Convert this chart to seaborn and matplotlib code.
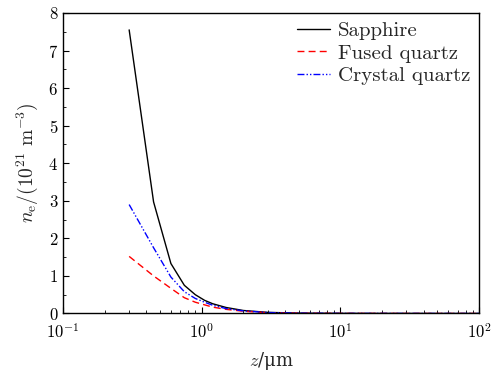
import matplotlib
matplotlib.use("Agg")
import matplotlib.pyplot as plt
import numpy as np
import pandas as pd
import seaborn as sns
from matplotlib.ticker import MultipleLocator, LogLocator, NullFormatter

# depth z (um) and electron density (1e21 m^-3)
z = [0.3, 0.45, 0.6, 0.75, 0.9, 1.05, 1.2, 1.5, 2.0, 3.0, 5.0, 10.0, 20.0, 50.0, 100.0]
sapphire = [7.55, 2.97, 1.33, 0.75, 0.50, 0.35, 0.26, 0.16, 0.08, 0.03, 0.01, 0.004, 0.002, 0.001, 0.001]
fused = [1.52, 1.00, 0.67, 0.42, 0.30, 0.23, 0.17, 0.11, 0.06, 0.02, 0.008, 0.003, 0.002, 0.001, 0.001]
crystal = [2.90, 1.75, 0.97, 0.58, 0.40, 0.30, 0.22, 0.13, 0.07, 0.025, 0.009, 0.003, 0.002, 0.001, 0.001]

names = ["Sapphire", "Fused quartz", "Crystal quartz"]

df = pd.concat([
    pd.DataFrame({"z": z, "ne": sapphire, "material": names[0]}),
    pd.DataFrame({"z": z, "ne": fused, "material": names[1]}),
    pd.DataFrame({"z": z, "ne": crystal, "material": names[2]}),
])

sns.set_style("ticks")
plt.rcParams["font.family"] = ["cmr10", "DejaVu Serif"]
plt.rcParams["mathtext.fontset"] = "cm"
plt.rcParams["axes.formatter.use_mathtext"] = True
plt.rcParams["axes.unicode_minus"] = False

fig = plt.figure(figsize=(5.0, 3.71), dpi=100)
ax = fig.add_axes([0.126, 0.155, 0.832, 0.81])

palette = {names[0]: "black", names[1]: "red", names[2]: "blue"}
dashes = {names[0]: "", names[1]: (5, 3), names[2]: (5, 1.5, 1, 1.5, 1, 1.5)}
sns.lineplot(data=df, x="z", y="ne", hue="material", style="material",
             palette=palette, dashes=dashes, linewidth=1.0, ax=ax)

ax.set_xscale("log")
ax.set_xlim(0.1, 100)
ax.set_ylim(0, 8)
ax.yaxis.set_major_locator(MultipleLocator(1))
ax.yaxis.set_minor_locator(MultipleLocator(0.5))
ax.xaxis.set_minor_locator(LogLocator(base=10, subs=np.arange(2, 10)))
ax.xaxis.set_minor_formatter(NullFormatter())
ax.tick_params(which="both", direction="in", labelsize=12, colors="black")
ax.tick_params(which="major", length=4)
ax.tick_params(which="minor", length=2)
ax.tick_params(axis="x", pad=6)
for s in ax.spines.values():
    s.set_linewidth(1.0)
    s.set_color("black")

ax.set_xlabel(r"$z$/μm", fontsize=13, family=["DejaVu Serif"], labelpad=7)
ax.set_ylabel(r"$n_{\rm e}/(10^{21}\ {\rm m}^{-3})$", fontsize=14, labelpad=6)

ax.legend(loc="upper right", frameon=False, fontsize=15, handlelength=1.6,
          handletextpad=0.4, borderaxespad=0.1, borderpad=0.3, labelspacing=0.2)

fig.savefig("out.png", dpi=100)
